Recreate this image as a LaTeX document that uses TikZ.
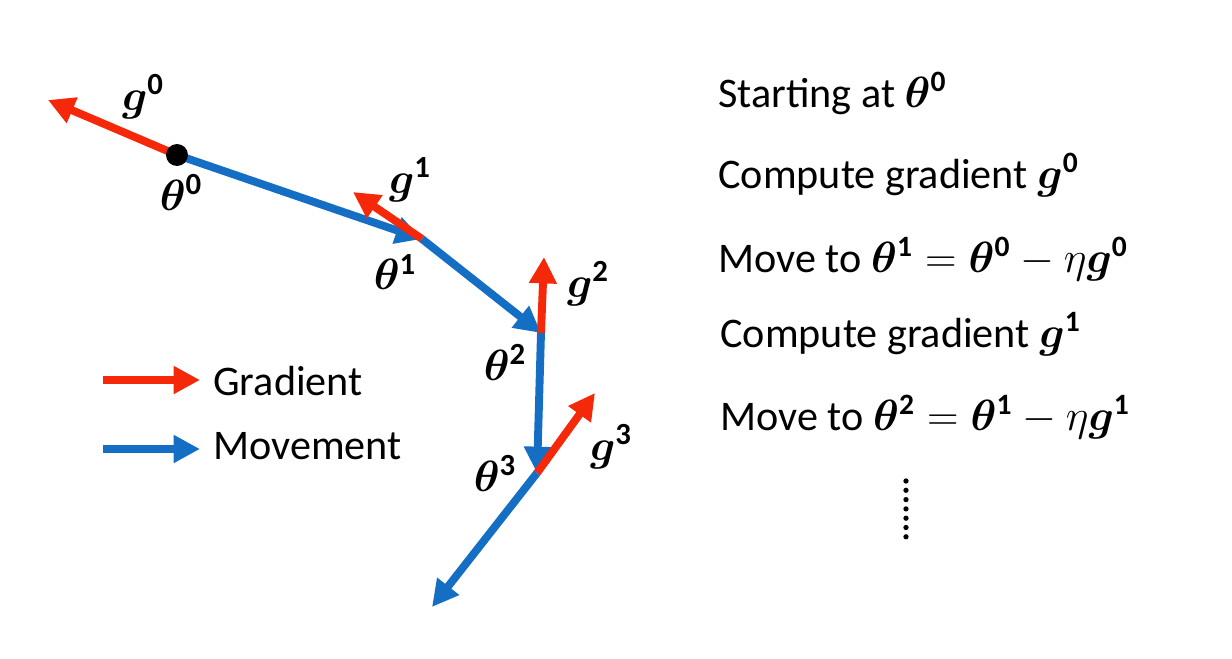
\documentclass[tikz,border=0pt]{standalone}
\usepackage{amsmath}
\usepackage{bm}
\usepackage{fontspec}
\setmainfont{Carlito}
\usetikzlibrary{arrows.meta}
\definecolor{gradred}{RGB}{245,40,10}
\definecolor{moveblue}{RGB}{20,110,195}
\newcommand{\thb}[1]{\bm{\theta}^{\mathbf{#1}}}
\newcommand{\gb}[1]{\bm{g}^{\mathbf{#1}}}

\begin{document}
\begin{tikzpicture}[x=0.02cm,y=-0.02cm]
	\tikzstyle{grad} = [draw=gradred,line width=4.5pt,-{Triangle[length=15pt,width=15pt]}]
	\tikzstyle{move} = [draw=moveblue,line width=4.5pt,-{Triangle[length=15pt,width=15pt]}]
	\tikzstyle{lbl} = [font=\fontsize{25}{29}\selectfont,inner sep=0pt]
	\tikzstyle{txt} = [font=\fontsize{24}{28}\selectfont,inner sep=0pt,anchor=base west]
	
	\useasboundingbox (0,0) rectangle (1232,659);
	
	\coordinate (t0) at (177,155);
	\coordinate (t1) at (422,239);
	\coordinate (t2) at (541,333);
	\coordinate (t3) at (537,473);
	\coordinate (t4) at (432,607);
	\coordinate (g0) at (48,100);
	\coordinate (g1) at (353,192);
	\coordinate (g2) at (544,257);
	\coordinate (g3) at (595,393);
	
	\draw[grad] (t0) -- (g0);
	\draw[move] (t0) -- (t1);
	\draw[grad] (t1) -- (g1);
	\draw[move] (t1) -- (t2);
	\draw[grad] (t2) -- (g2);
	\draw[move] (t2) -- (t3);
	\draw[grad] (t3) -- (g3);
	\draw[move] (t3) -- (t4);
	\node[circle,fill=black,minimum size=0.44cm,inner sep=0pt] (p0) at (t0) {};
	
	\node[lbl] (lg0) at (143,97) {$\gb{0}$};
	\node[lbl] (lt0) at (181,192) {$\thb{0}$};
	\node[lbl] (lg1) at (410,180) {$\gb{1}$};
	\node[lbl] (lt1) at (395,272) {$\thb{1}$};
	\node[lbl] (lg2) at (588,284) {$\gb{2}$};
	\node[lbl] (lt2) at (505,362) {$\thb{2}$};
	\node[lbl] (lg3) at (611,447) {$\gb{3}$};
	\node[lbl] (lt3) at (495,473) {$\thb{3}$};
	
	\coordinate (r0) at (103,380);
	\coordinate (r1) at (200,380);
	\coordinate (b0) at (103,449);
	\coordinate (b1) at (200,449);
	\draw[grad] (r0) -- (r1);
	\draw[move] (b0) -- (b1);
	\node[txt] (kgrad) at (213,395) {Gradient};
	\node[txt] (kmove) at (213,459) {Movement};
	
	\node[txt] (s1) at (718,107) {Starting at $\thb{0}$};
	\node[txt] (s2) at (718,188) {Compute gradient $\gb{0}$};
	\node[txt] (s3) at (718,272) {Move to $\thb{1}=\thb{0}-\eta\gb{0}$};
	\node[txt] (s4) at (720,347) {Compute gradient $\gb{1}$};
	\node[txt] (s5) at (720,430) {Move to $\thb{2}=\thb{1}-\eta\gb{1}$};
	\foreach \k in {0,...,6}
		\fill (906,481+9.3*\k) circle (1.5pt);
\end{tikzpicture}
\end{document}
